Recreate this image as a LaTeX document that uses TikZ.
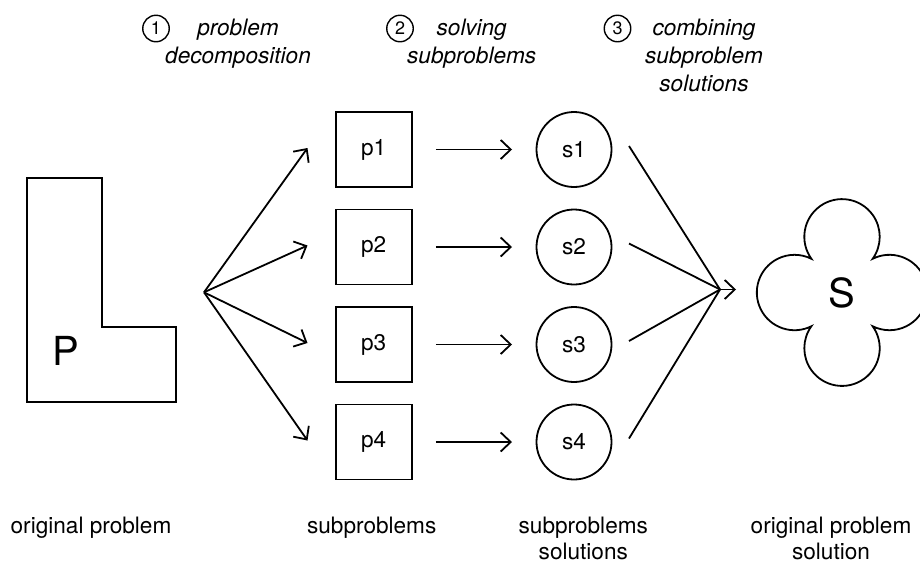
\documentclass[tikz,border=0pt]{standalone}
\usepackage{fontspec}
\setmainfont{TeX Gyre Heros}
\usetikzlibrary{arrows.meta}
\begin{document}
\begin{tikzpicture}[x=1pt,y=1pt,line width=1.8pt,
  >={Straight Barb[length=10pt,width=19pt]},
  txt/.style={font=\fontsize{22.6}{28.3}\selectfont},
  box/.style={draw,minimum width=76pt,minimum height=75pt,inner sep=0pt,txt},
  sol/.style={draw,circle,minimum size=75pt,inner sep=0pt,txt},
  big/.style={inner sep=0pt,font=\fontsize{40}{44}\selectfont},
  num/.style={draw,circle,minimum size=26.5pt,inner sep=0pt,line width=1.4pt,font=\fontsize{18}{20}\selectfont},
  captext/.style={align=center,anchor=north,inner sep=0pt,txt},
  bottomtext/.style={captext,font=\fontsize{22.6}{26.5}\selectfont},
  toplab/.style={captext,font=\fontsize{22.6}{28.3}\selectfont\itshape}]
\path[use as bounding box,clip] (0,-563) rectangle (920,0);
% original problem (L shape)
\draw (27,-178.3) -- (101.7,-178.3) -- (101.7,-327.3) -- (176,-327.3) -- (176,-402.3) -- (27,-402.3) -- cycle;
\node[big] (P) at (65.5,-350.5) {P};
% subproblems and solutions
\foreach \i/\r in {1/149.5,2/247,3/344.5,4/442}{
  \node[box] (p\i) at (373.7,-\r) {p\i};
  \node[sol] (s\i) at (574,-\r) {s\i};
  \coordinate (t\i) at (307.5,-\r+1.5);
  \coordinate (e\i) at (629,-\r+3.5);
}
\coordinate (F) at (204,-292.3);
\coordinate (C) at (720,-289.5);
\coordinate (Ct) at (736,-289.5);
\foreach \i in {1,2,3,4}{
  \draw[->] (F) -- (t\i);
  \draw[->,shorten <=23.3pt,shorten >=23.6pt] (p\i) -- (s\i);
  \draw (e\i) -- (C);
}
\draw[->] (C) -- (Ct);
% cloud (original problem solution)
\draw (811.4,-258.8) arc[start angle=215.7,end angle=-35.7,radius=37.7]
  arc[start angle=116.6,end angle=-116.6,radius=37.7]
  arc[start angle=35.7,end angle=-215.7,radius=37.7]
  arc[start angle=-63.4,end angle=-296.6,radius=37.7] -- cycle;
\node[big] (S) at (842,-292.5) {S};
% step labels
\node[num] (n1) at (156,-28.5) {1};
\node[toplab] (l1) at (238,-17.8) {problem\\decomposition};
\node[num] (n2) at (400,-28.5) {2};
\node[toplab] (l2) at (471.7,-17.8) {solving\\subproblems};
\node[num] (n3) at (617.5,-28.5) {3};
\node[toplab] (l3) at (704,-17.8) {combining\\subproblem\\solutions};
% bottom captions
\node[bottomtext] (b1) at (91,-516) {original problem};
\node[bottomtext] (b2) at (371.7,-516) {subproblems};
\node[bottomtext] (b3) at (583.3,-516) {subproblems\\solutions};
\node[bottomtext] (b4) at (831,-516) {original problem\\solution};
\end{tikzpicture}
\end{document}
